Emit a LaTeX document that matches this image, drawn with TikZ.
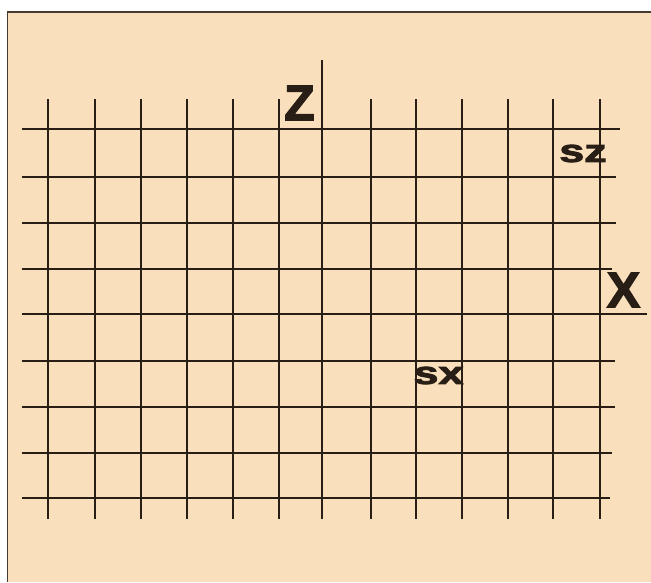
\documentclass[tikz,border=0pt]{standalone}
\usepackage{fontspec}
\setmainfont{Liberation Sans}
\newfontfamily\heavyfont[FakeBold=2.5]{Liberation Sans Bold}
\definecolor{paper}{RGB}{250,223,188}
\definecolor{ink}{RGB}{40,30,22}
\begin{document}
\begin{tikzpicture}[x=1pt,y=-1pt,
  grid/.style={draw=ink,line width=1.6pt},
  axis/.style={draw=ink,line width=1.9pt},
  lbl/.style={inner sep=0pt,text=ink,font=\heavyfont\fontsize{50}{50}\selectfont},
  sub/.style={inner sep=0pt,text=ink,xscale=1.4,transform shape,font=\heavyfont\fontsize{32}{32}\selectfont}]
\useasboundingbox (0,0) rectangle (651,582);
\fill[white] (0,0) rectangle (651,582);
\fill[paper] (7,12) rectangle (651,582);
\draw[ink!85!paper,line width=1.4pt] (7.5,582) -- (7.5,12) -- (651,12);
% vertical grid lines
\foreach \x in {48,95,141,187,233,279,371,416,462,508,553,600}
  \draw[grid] (\x,99) -- (\x,519);
% horizontal grid lines
\foreach \y/\e in {129/620,177/616,223/616,269/612,361/615,407/615,453/612,498/610}
  \draw[grid] (22,\y) -- (\e,\y);
% axes
\draw[axis] (322,60) -- (322,519);
\draw[axis] (22,314) -- (647,314);
\node[lbl] (zlab) at (299.5,103) {Z};
\node[lbl] (xlab) at (623.5,290) {X};
\node[sub] (szlab) at (583,153.5) {sz};
\node[sub] (sxlab) at (438.5,375.5) {sx};
\end{tikzpicture}
\end{document}
